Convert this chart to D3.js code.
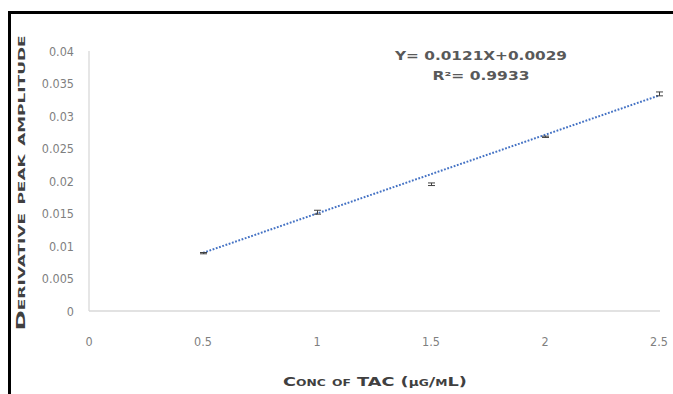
<!DOCTYPE html>
<html>
<head>
<meta charset="utf-8">
<script src="https://cdn.jsdelivr.net/npm/d3@7"></script>
<style>
  body { margin: 0; background: #fff; }
  svg { display: block; }
</style>
</head>
<body>
<svg id="svg"></svg>
<script>
const WIDTH = 673, HEIGHT = 394;

// values
const conc = [0.5, 1, 1.5, 2, 2.5];
const amplitude = [0.0089, 0.0152, 0.0195, 0.0268, 0.0334];
const errors = [0.0001, 0.0003, 0.0002, 0.0001, 0.0003];
const xTicks = [0, 0.5, 1, 1.5, 2, 2.5];
const yTicks = [0, 0.005, 0.01, 0.015, 0.02, 0.025, 0.03, 0.035, 0.04];
const trend = { slope: 0.0121, intercept: 0.0029 };
const eqLabels = ['Y= 0.0121X+0.0029', 'R\u00B2= 0.9933'];

const svg = d3.select('#svg').attr('width', WIDTH).attr('height', HEIGHT);

// outer frame (top and left edges visible)
svg.append('path')
   .attr('d', 'M9.5,' + HEIGHT + ' V12.5 H' + WIDTH)
   .attr('fill', 'none').attr('stroke', '#000').attr('stroke-width', 3);

const x = d3.scaleLinear().domain([0, 2.5]).range([89, 659]);
const y = d3.scaleLinear().domain([0, 0.04]).range([311, 51]);

const tickFont = '"Liberation Sans Narrow", "DejaVu Sans Condensed", sans-serif';

// axis lines
svg.append('line').attr('x1', x(0)).attr('x2', x(0)).attr('y1', y(0.04)).attr('y2', y(0))
   .attr('stroke', '#d9d9d9').attr('stroke-width', 1.3);
svg.append('line').attr('x1', x(0)).attr('x2', x(2.5) + 1).attr('y1', y(0)).attr('y2', y(0))
   .attr('stroke', '#d9d9d9').attr('stroke-width', 1.3);

// tick labels
svg.append('g').selectAll('text').data(yTicks).join('text')
   .attr('x', 74).attr('y', d => y(d) + 4.5)
   .attr('text-anchor', 'end')
   .attr('font-family', tickFont).attr('font-size', 12.5).attr('fill', '#7f7f7f')
   .text(d => d);
svg.append('g').selectAll('text').data(xTicks).join('text')
   .attr('x', d => x(d)).attr('y', 346)
   .attr('text-anchor', 'middle')
   .attr('font-family', tickFont).attr('font-size', 12.5).attr('fill', '#7f7f7f')
   .text(d => d);

// trendline
const line = d3.line().x(d => x(d)).y(d => y(trend.slope * d + trend.intercept));
svg.append('path').datum([conc[0], conc[conc.length - 1]])
   .attr('d', line)
   .attr('fill', 'none').attr('stroke', '#4472c4').attr('stroke-width', 2)
   .attr('stroke-dasharray', '1.8,1.6');

// error bars
const eb = svg.append('g').attr('stroke', '#404040').attr('stroke-width', 1);
conc.forEach((c, i) => {
    const cx = Math.round(x(c)) + 0.5;
    const top = y(amplitude[i] + errors[i]), bot = y(amplitude[i] - errors[i]);
    eb.append('line').attr('x1', cx).attr('x2', cx).attr('y1', top).attr('y2', bot);
    eb.append('line').attr('x1', cx - 3.5).attr('x2', cx + 3.5).attr('y1', top).attr('y2', top);
    eb.append('line').attr('x1', cx - 3.5).attr('x2', cx + 3.5).attr('y1', bot).attr('y2', bot);
});

// equation
svg.append('g').selectAll('text').data(eqLabels).join('text')
   .attr('x', 481).attr('y', (d, i) => 60 + i * 20)
   .attr('text-anchor', 'middle')
   .attr('font-family', '"DejaVu Sans", sans-serif').attr('font-weight', 'bold')
   .attr('font-size', 11.5).attr('fill', '#595959')
   .attr('textLength', (d, i) => i ? 97 : 172).attr('lengthAdjust', 'spacingAndGlyphs')
   .text(d => d);

// axis titles
const titleFont = '"DejaVu Sans", sans-serif';
svg.append('text')
   .attr('transform', 'translate(25,183) rotate(-90)')
   .attr('text-anchor', 'middle')
   .attr('font-family', titleFont).attr('font-weight', 'bold')
   .attr('font-variant', 'small-caps').attr('font-size', 13).attr('fill', '#404040')
   .attr('textLength', 295).attr('lengthAdjust', 'spacingAndGlyphs')
   .text('Derivative peak amplitude');
const xt = svg.append('text')
   .attr('x', 375).attr('y', 386)
   .attr('text-anchor', 'middle')
   .attr('font-family', titleFont).attr('font-weight', 'bold')
   .attr('font-variant', 'small-caps').attr('font-size', 13).attr('fill', '#404040')
   .attr('textLength', 184).attr('lengthAdjust', 'spacingAndGlyphs');
xt.append('tspan').text('Conc of TAC (');
xt.append('tspan').attr('font-variant', 'normal').attr('font-size', 10).text('\u03BC');
xt.append('tspan').text('g/mL)');
</script>
</body>
</html>
